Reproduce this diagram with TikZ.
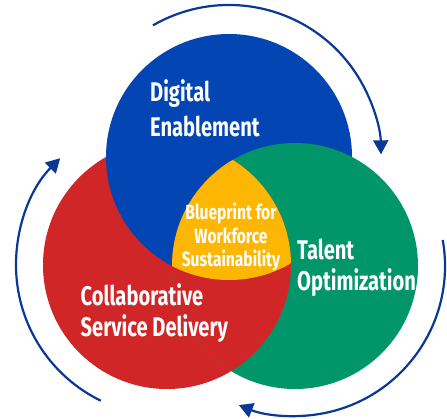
\documentclass[tikz,border=0pt]{standalone}
\usepackage{fontspec}
\usetikzlibrary{arrows.meta}
\newfontfamily\condfont[FakeStretch=0.745]{Fira Sans}
\newfontfamily\corefont[FakeStretch=0.76]{Fira Sans}
\definecolor{digiblue}{HTML}{0345B2}
\definecolor{talentgreen}{HTML}{00966A}
\definecolor{collabred}{HTML}{D12627}
\definecolor{coreyellow}{HTML}{FDB702}
\definecolor{cyclenavy}{HTML}{0A3896}
\begin{document}
\begin{tikzpicture}[x=1pt,y=1pt,
  cycle arrow/.style={draw=cyclenavy, line width=2.2pt,
    -{Triangle[length=14pt,width=15pt]}},
  area label/.style={text=white, inner sep=0pt, anchor=base west, align=left,
    font=\condfont\bfseries\fontsize{27}{31}\selectfont},
  core label/.style={text=white, inner sep=0pt, anchor=base, align=center,
    font=\corefont\bfseries\fontsize{20.5}{23.5}\selectfont}]
\useasboundingbox (0,0) rectangle (447,418);

% circle centres
\coordinate (bc) at (229,261);
\coordinate (gc) at (295,152);
\coordinate (rc) at (167,153);

% the three overlapping discs
\fill[collabred] (rc) circle[radius=124];
\fill[digiblue] (bc) circle[radius=123];
\fill[talentgreen] (gc) circle[radius=123];
\begin{scope}
  \clip (gc) circle[radius=123];
  \fill[collabred] (rc) circle[radius=124];
\end{scope}
% common core of all three
\begin{scope}
  \clip (gc) circle[radius=123];
  \clip (bc) circle[radius=123];
  \fill[coreyellow] (rc) circle[radius=124];
\end{scope}

% cycle arrows around the discs
\draw[cycle arrow] ([shift={(120:152)}]bc) arc[start angle=120, end angle=1, radius=152];
\draw[cycle arrow] ([shift={(10:150)}]gc) arc[start angle=10, end angle=-112, radius=150];
\draw[cycle arrow] ([shift={(-116:151)}]rc) arc[start angle=-116, end angle=-225, radius=151];

% labels (anchored on the baseline of their last line)
\node[area label, font=\condfont\bfseries\fontsize{27}{35}\selectfont] (digital) at (150,281.3) {Digital\\Enablement};
\node[area label] (talent) at (297,128) {Talent\\Optimization};
\node[area label] (collab) at (80.5,81.3) {Collaborative\\Service Delivery};
\node[core label] (core) at (231,151) {Blueprint for\\Workforce\\Sustainability};
\end{tikzpicture}
\end{document}
